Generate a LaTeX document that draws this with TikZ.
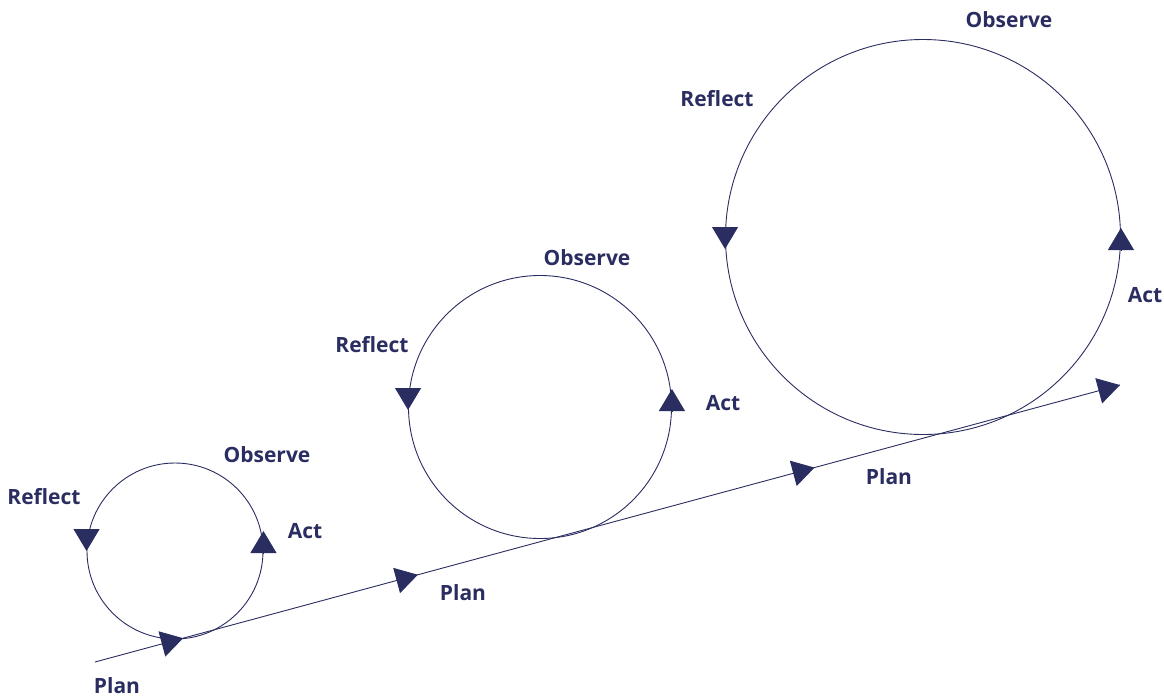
\documentclass[tikz,border=0pt]{standalone}
\usepackage{fontspec}
\setmainfont{Open Sans}
\usetikzlibrary{arrows.meta,decorations.markings}
\definecolor{navy}{RGB}{42,45,96}
\tikzset{
  cyc/.style={circle, draw=navy, line width=0.9pt, inner sep=0pt},
  lbl/.style={text=navy, font=\fontsize{21}{24}\selectfont\bfseries, inner sep=0pt},
  tip/.style={-{Triangle[width=26pt,length=22pt]}, draw=navy, fill=navy, line width=0.9pt},
  plan/.style={draw=navy, line width=0.9pt,
    postaction={decorate, decoration={markings,
      mark=at position 0.086 with {\arrow[navy]{Triangle[width=26pt,length=22pt]}},
      mark=at position 0.315 with {\arrow[navy]{Triangle[width=26pt,length=22pt]}},
      mark=at position 0.702 with {\arrow[navy]{Triangle[width=26pt,length=22pt]}},
      mark=at position 1 with {\arrow[navy]{Triangle[width=26pt,length=22pt]}}}}}
}
\begin{document}
\begin{tikzpicture}[x=1pt, y=-1pt]
  \useasboundingbox (0,0) rectangle (1164,696);
  % the three cycles
  \node[cyc, minimum size=176pt] (c1) at (175,551) {};
  \node[cyc, minimum size=263pt] (c2) at (540,407) {};
  \node[cyc, minimum size=395pt] (c3) at (923,237) {};
  % arrows on the cycles (yshift is in page direction, up is positive)
  \draw[tip] ([yshift=22pt]c1.west) -- (c1.west);
  \draw[tip] ([yshift=-2pt]c1.east) -- ([yshift=20pt]c1.east);
  \draw[tip] ([yshift=19pt]c2.west) -- ([yshift=-3pt]c2.west);
  \draw[tip] ([yshift=-4pt]c2.east) -- ([yshift=18pt]c2.east);
  \draw[tip] ([yshift=10pt]c3.west) -- ([yshift=-12pt]c3.west);
  \draw[tip] ([yshift=-13pt]c3.east) -- ([yshift=9pt]c3.east);
  % the plan line
  \coordinate (start) at (95,662);
  \coordinate (end) at (1120,385);
  \draw[plan] (start) -- (end);
  % labels
  \node[lbl] (r1) at (44,497) {Reflect};
  \node[lbl] (o1) at (267,455) {Observe};
  \node[lbl] (a1) at (305,531) {Act};
  \node[lbl] (p1) at (117,686) {Plan};
  \node[lbl] (r2) at (372,345) {Reflect};
  \node[lbl] (o2) at (587,258) {Observe};
  \node[lbl] (a2) at (723,403) {Act};
  \node[lbl] (p2) at (463,593) {Plan};
  \node[lbl] (r3) at (717,99) {Reflect};
  \node[lbl] (o3) at (1009,20) {Observe};
  \node[lbl] (a3) at (1145,295) {Act};
  \node[lbl] (p3) at (889,477) {Plan};
\end{tikzpicture}
\end{document}
